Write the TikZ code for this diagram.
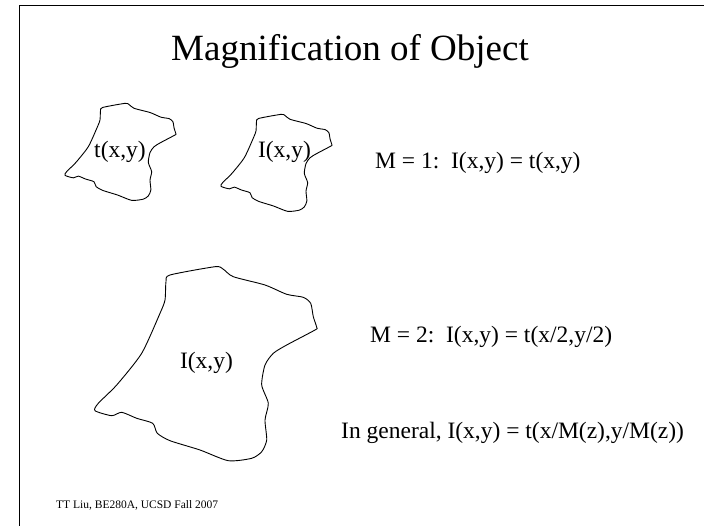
\documentclass[tikz,border=0pt]{standalone}
\usepackage{fontspec}
\setmainfont{Liberation Serif}

\tikzset{
	blobline/.style={line width=0.9pt, line join=round},
	titletext/.style={inner sep=0pt, font=\fontsize{37}{44}\selectfont},
	bodytext/.style={inner sep=0pt, font=\fontsize{23.5}{28}\selectfont},
	foottext/.style={inner sep=0pt, font=\fontsize{11.5}{14}\selectfont},
	blob/.pic={
		\draw[blobline] plot[smooth cycle, tension=0.4] coordinates {
			(170,275) (215,266.7) (223,269) (233.3,276.7) (265,285) (286.7,294.3)
			(303.3,297.3) (310.7,303.3) (313.3,316.7) (316.7,327.3) (315,330)
			(286.7,345) (273.3,353.3) (265,365) (261.7,385) (268.3,403.3) (265,420)
			(266.7,440) (261.7,451.7) (251.7,458.3) (228.3,460.7) (200,450)
			(170,440.7) (157.3,433.3) (152.7,423.3) (136.7,418.3) (121.7,412.3)
			(111.7,415.7) (95,410.7) (98.3,403.3) (116.7,385) (141.7,353.3)
			(160,313.3) (165,300) (166,281.7)};
	}
}

\begin{document}
\begin{tikzpicture}[x=1pt, y=-1pt]
	\useasboundingbox (0,0) rectangle (704,526);

	% Cornice
	\draw[line width=1pt] (19,526) -- (19,5.5) -- (704,5.5);

	% Titolo
	\node[titletext, anchor=base] (title) at (350,61){Magnification of Object};

	% Oggetti
	\pic at (0,0) {blob};
	\pic[scale=0.5] at (17.5,-30) {blob};
	\pic[scale=0.5] at (173.5,-19) {blob};

	\node[bodytext, anchor=base] (tlabel) at (120,158){t(x,y)};
	\node[bodytext, anchor=base] (ilabel) at (284.5,158){I(x,y)};
	\node[bodytext, anchor=base] (ibig) at (206.5,369){I(x,y)};

	% Relazioni
	\node[bodytext, anchor=base west] (mone) at (375,169){M = 1:~~I(x,y) = t(x,y)};
	\node[bodytext, anchor=base west] (mtwo) at (370,343){M = 2:~~I(x,y) = t(x/2,y/2)};
	\node[bodytext, anchor=base west] (general) at (341,438.5){In general, I(x,y) = t(x/M(z),y/M(z))};

	\node[foottext, anchor=base west] (footer) at (56,508){TT Liu, BE280A, UCSD Fall 2007};
\end{tikzpicture}
\end{document}
